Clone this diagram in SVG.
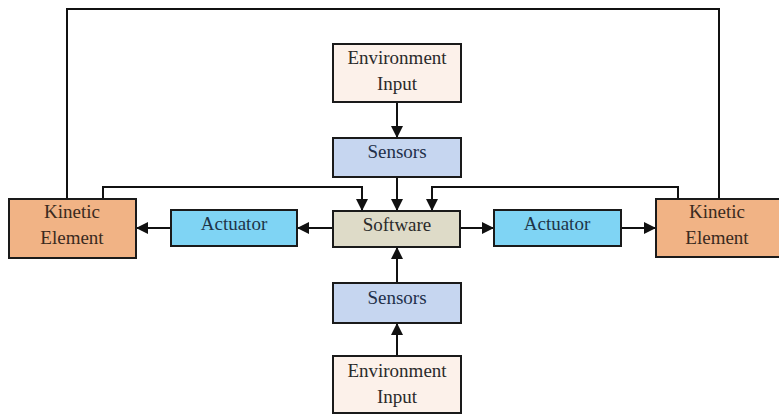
<svg xmlns="http://www.w3.org/2000/svg" width="779" height="414" viewBox="0 0 779 414">
<defs>
<marker id="ah" markerUnits="userSpaceOnUse" markerWidth="13" markerHeight="13" refX="12" refY="6" orient="auto">
<path d="M0,0 L12,6 L0,12 z" fill="#111"/>
</marker>
<style>
.box{stroke:#1a1a1a;stroke-width:2}
.env{fill:#fcf1ea}
.sen{fill:#c6d6f0}
.sw{fill:#dedbc8}
.act{fill:#7fd4f4}
.kin{fill:#f1b385}
text{font-family:"Liberation Serif","Times New Roman",serif;font-size:19px;text-anchor:middle;fill:#2a2a2a}
.con{fill:none;stroke:#111;stroke-width:2}
.arr{marker-end:url(#ah)}
</style>
</defs>
<rect width="779" height="414" fill="#ffffff"/>
<g id="connectors">
<polyline class="con" points="67,199 67,9 719,9 719,199"/>
<polyline class="con arr" points="103,199 103,187 362,187 362,211"/>
<polyline class="con arr" points="678,199 678,187 432,187 432,211"/>
<line class="con arr" x1="397" y1="102" x2="397" y2="138"/>
<line class="con arr" x1="397" y1="177" x2="397" y2="211"/>
<line class="con arr" x1="397" y1="283" x2="397" y2="247"/>
<line class="con arr" x1="397" y1="356" x2="397" y2="323"/>
<line class="con arr" x1="333" y1="228" x2="297" y2="228"/>
<line class="con arr" x1="171" y1="228" x2="136" y2="228"/>
<line class="con arr" x1="460" y1="228" x2="494" y2="228"/>
<line class="con arr" x1="621" y1="228" x2="656" y2="228"/>
</g>
<g id="env-top">
<rect class="box env" x="333" y="44" width="128" height="58"/>
<text x="397" y="64">Environment</text>
<text x="397" y="90">Input</text>
</g>
<g id="sensors-top">
<rect class="box sen" x="333" y="138" width="128" height="39"/>
<text x="397" y="158" style="fill:#22304a">Sensors</text>
</g>
<g id="software">
<rect class="box sw" x="333" y="211" width="127" height="36"/>
<text x="397" y="231">Software</text>
</g>
<g id="actuator-left">
<rect class="box act" x="171" y="210" width="126" height="36"/>
<text x="234" y="230" style="fill:#1e3448">Actuator</text>
</g>
<g id="actuator-right">
<rect class="box act" x="494" y="210" width="127" height="36"/>
<text x="557" y="230" style="fill:#1e3448">Actuator</text>
</g>
<g id="kinetic-left">
<rect class="box kin" x="9" y="199" width="127" height="59"/>
<text x="72" y="218" style="fill:#3a2a20">Kinetic</text>
<text x="72" y="244" style="fill:#3a2a20">Element</text>
</g>
<g id="kinetic-right">
<rect class="box kin" x="656" y="199" width="124" height="58"/>
<text x="717" y="218" style="fill:#3a2a20">Kinetic</text>
<text x="717" y="244" style="fill:#3a2a20">Element</text>
</g>
<g id="sensors-bottom">
<rect class="box sen" x="333" y="283" width="128" height="40"/>
<text x="397" y="304" style="fill:#22304a">Sensors</text>
</g>
<g id="env-bottom">
<rect class="box env" x="333" y="356" width="128" height="57"/>
<text x="397" y="377">Environment</text>
<text x="397" y="403">Input</text>
</g>
</svg>
